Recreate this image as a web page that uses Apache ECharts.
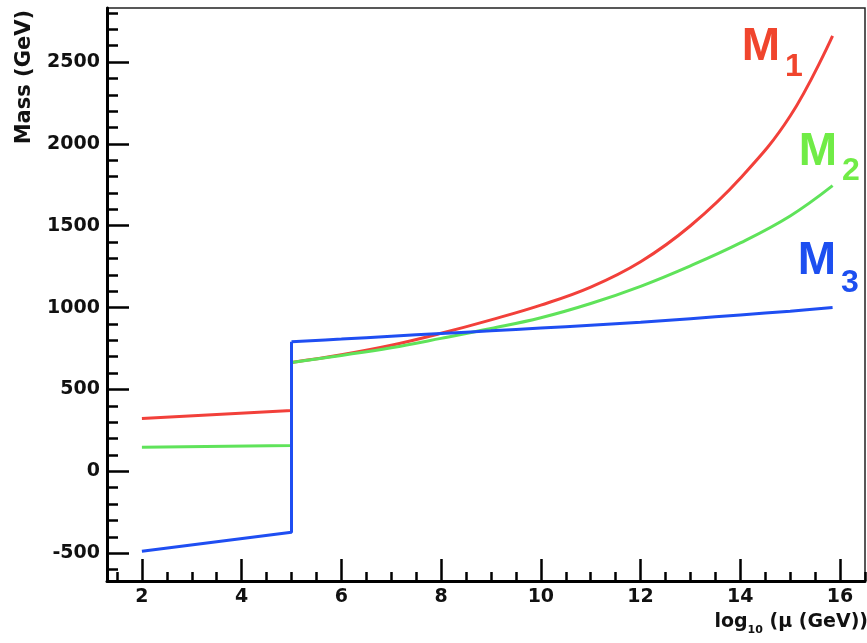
<!DOCTYPE html>
<html>
<head>
<meta charset="utf-8">
<script src="https://cdn.jsdelivr.net/npm/echarts@6/dist/echarts.min.js"></script>
<style>
html,body{margin:0;padding:0;background:#fff;}
#chart{width:867px;height:643px;}
</style>
</head>
<body>
<div id="chart"></div>
<script>
// ---- data ----
var xLow = [2, 5];
var m1Low = [322, 372];
var m2Low = [147, 158];
var m3Low = [-488, -372];

var xHigh = [5, 6, 7, 8, 9, 10, 11, 12, 13, 14, 15, 15.85];
var m1High = [665, 712, 770, 843, 925, 1015, 1125, 1280, 1500, 1790, 2170, 2660];
var m2High = [665, 708, 755, 812, 872, 938, 1025, 1130, 1255, 1395, 1560, 1745];
var m3High = [792, 808, 825, 842, 858, 875, 892, 910, 932, 955, 978, 1000];

var xTickLabels = [2, 4, 6, 8, 10, 12, 14, 16];
var yTickLabels = [-500, 0, 500, 1000, 1500, 2000, 2500];
var seriesNames = ['M1', 'M2', 'M3'];

// ---- helpers ----
function pairs(xs, ys) { return xs.map(function (x, i) { return [x, ys[i]]; }); }
function lowWithJump(ys, high) {
  var d = pairs(xLow, ys);
  d.push([xHigh[0], high[0]]);
  return d;
}
var xMin = 1.3, xMax = 16.5, yMin = -670, yMax = 2830;
var xMinor = [], yMinor = [];
for (var v = 1.5; v <= xMax; v += 0.5) { if (v % 2 !== 0) xMinor.push(v); }
for (var w = -600; w <= 2800; w += 100) { if (w % 500 !== 0) yMinor.push(w); }

var colors = ['#f2403a', '#5fe35a', '#1f4ef2'];
var labelFont = 'DejaVu Sans';
function plain(val) { return String(val); }

var chart = echarts.init(document.getElementById('chart'));

var option = {
  animation: false,
  backgroundColor: '#fff',
  grid: { left: 107, top: 8, right: 2, bottom: 62, show: true, borderColor: '#222', borderWidth: 1.5, backgroundColor: 'transparent' },
  xAxis: [
    {
      type: 'value', min: xMin, max: xMax,
      axisLine: { show: true, onZero: false, lineStyle: { color: '#000', width: 3 } },
      axisTick: { show: true, inside: true, length: 22, customValues: xTickLabels, lineStyle: { color: '#000', width: 2.5 } },
      axisLabel: { show: true, customValues: xTickLabels, formatter: plain, margin: 7, fontFamily: labelFont, fontWeight: 'bold', fontSize: 19, color: '#111' },
      splitLine: { show: false }
    },
    {
      type: 'value', min: xMin, max: xMax, gridIndex: 0,
      position: 'bottom',
      axisLine: { show: false, onZero: false },
      axisTick: { show: true, inside: true, length: 9, customValues: xMinor, lineStyle: { color: '#000', width: 2.5 } },
      axisLabel: { show: false },
      splitLine: { show: false }
    }
  ],
  yAxis: [
    {
      type: 'value', min: yMin, max: yMax,
      axisLine: { show: true, onZero: false, lineStyle: { color: '#000', width: 3 } },
      axisTick: { show: true, inside: true, length: 22, customValues: yTickLabels, lineStyle: { color: '#000', width: 2.5 } },
      axisLabel: { show: true, customValues: yTickLabels, formatter: plain, margin: 7, fontFamily: labelFont, fontWeight: 'bold', fontSize: 19, color: '#111' },
      splitLine: { show: false }
    },
    {
      type: 'value', min: yMin, max: yMax, position: 'left',
      axisLine: { show: false, onZero: false },
      axisTick: { show: true, inside: true, length: 11, customValues: yMinor, lineStyle: { color: '#000', width: 2.5 } },
      axisLabel: { show: false },
      splitLine: { show: false }
    }
  ],
  series: [
    { name: seriesNames[0] + ' low', type: 'line', data: lowWithJump(m1Low, m1High), showSymbol: false, lineStyle: { color: colors[0], width: 3 }, z: 2 },
    { name: seriesNames[1] + ' low', type: 'line', data: lowWithJump(m2Low, m2High), showSymbol: false, lineStyle: { color: colors[1], width: 3 }, z: 2 },
    { name: seriesNames[0], type: 'line', data: pairs(xHigh, m1High), smooth: 0.4, showSymbol: false, lineStyle: { color: colors[0], width: 3 }, z: 2 },
    { name: seriesNames[1], type: 'line', data: pairs(xHigh, m2High), smooth: 0.4, showSymbol: false, lineStyle: { color: colors[1], width: 3 }, z: 2 },
    { name: seriesNames[2] + ' low', type: 'line', data: lowWithJump(m3Low, m3High), showSymbol: false, lineStyle: { color: colors[2], width: 3 }, z: 3 },
    { name: seriesNames[2], type: 'line', data: pairs(xHigh, m3High), smooth: 0.4, showSymbol: false, lineStyle: { color: colors[2], width: 3 }, z: 3 }
  ],
  graphic: [
    { type: 'text', x: 25, y: 10, rotation: Math.PI / 2,
      style: { text: 'Mass (GeV)', font: 'bold 21px "DejaVu Sans"', fill: '#111', align: 'right', verticalAlign: 'middle' } },
    { type: 'text', x: 868, y: 622,
      style: { text: 'log{s|10} (µ (GeV))', font: 'bold 19px "DejaVu Sans"', fill: '#111', align: 'right', verticalAlign: 'middle',
        rich: { s: { font: 'bold 11px "DejaVu Sans"', fill: '#111', padding: [16, 0, 0, 0] } } } },
    { type: 'text', x: 761, y: 47, style: { text: 'M', font: 'bold 46px "Liberation Sans"', fill: '#f0452d', align: 'center', verticalAlign: 'middle' } },
    { type: 'text', x: 794, y: 67, style: { text: '1', font: 'bold 32px "Liberation Sans"', fill: '#f0452d', align: 'center', verticalAlign: 'middle' } },
    { type: 'text', x: 818, y: 152, style: { text: 'M', font: 'bold 46px "Liberation Sans"', fill: '#70ec46', align: 'center', verticalAlign: 'middle' } },
    { type: 'text', x: 851, y: 171, style: { text: '2', font: 'bold 32px "Liberation Sans"', fill: '#70ec46', align: 'center', verticalAlign: 'middle' } },
    { type: 'text', x: 817, y: 261, style: { text: 'M', font: 'bold 46px "Liberation Sans"', fill: '#1d4ff0', align: 'center', verticalAlign: 'middle' } },
    { type: 'text', x: 850, y: 283, style: { text: '3', font: 'bold 32px "Liberation Sans"', fill: '#1d4ff0', align: 'center', verticalAlign: 'middle' } }
  ]
};
chart.setOption(option);
</script>
</body>
</html>
